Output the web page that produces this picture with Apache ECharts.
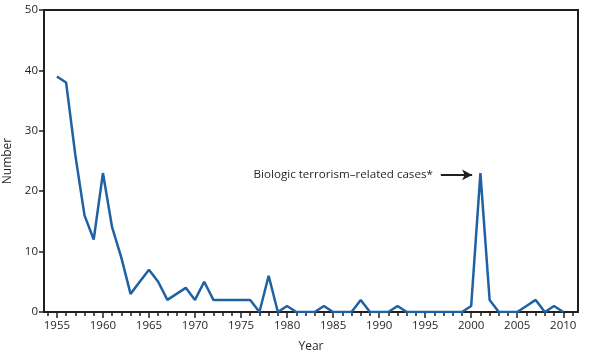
<!DOCTYPE html>
<html>
<head>
<meta charset="utf-8">
<script src="https://cdn.jsdelivr.net/npm/echarts@6/dist/echarts.min.js"></script>
<style>
html,body{margin:0;padding:0;background:#fff;}
#c{width:596px;height:359px;}
</style>
</head>
<body>
<div id="c"></div>
<script>
const years = [1955,1956,1957,1958,1959,1960,1961,1962,1963,1964,1965,1966,1967,1968,1969,1970,1971,1972,1973,1974,1975,1976,1977,1978,1979,1980,1981,1982,1983,1984,1985,1986,1987,1988,1989,1990,1991,1992,1993,1994,1995,1996,1997,1998,1999,2000,2001,2002,2003,2004,2005,2006,2007,2008,2009,2010];
const cases = [39,38,26,16,12,23,14,9,3,5,7,5,2,3,4,2,5,2,2,2,2,2,0,6,0,1,0,0,0,1,0,0,0,2,0,0,0,1,0,0,0,0,0,0,0,1,23,2,0,0,0,1,2,0,1,0];
const xLabelYears = [1955,1960,1965,1970,1975,1980,1985,1990,1995,2000,2005,2010];
const yTicks = [0,10,20,30,40,50];
const annotationText = 'Biologic terrorism\u2013related cases*';
const annotationArrow = [[1996.7,22.7],[2000.1,22.7]];

const tickYears = [];
for (let y = 1954; y <= 2011; y++) tickYears.push(y);

const FONT = "'Open Sans', sans-serif";
const INK = '#231f20';
const chart = echarts.init(document.getElementById('c'), null, {renderer:'canvas'});
const xBase = {
  type:'value', min:1953.6, max:2011.6, position:'bottom',
  splitLine:{show:false}
};
chart.setOption({
  animation:false,
  grid:{left:44, right:18, top:10, bottom:47, show:true, borderColor:INK, borderWidth:2, containLabel:false, outerBoundsMode:'none'},
  xAxis:[
    Object.assign({}, xBase, {
      name:'Year', nameLocation:'middle', nameGap:29,
      nameTextStyle:{fontFamily:FONT, fontSize:12, color:INK},
      axisLine:{show:true, lineStyle:{color:INK, width:2}},
      axisTick:{show:true, length:4, customValues:tickYears, lineStyle:{color:INK, width:1.5}},
      axisLabel:{show:true, customValues:xLabelYears, formatter:v=>String(v), fontFamily:FONT, fontSize:11.5, color:INK, margin:8}
    }),
    Object.assign({}, xBase, {
      axisLine:{show:false},
      axisTick:{show:true, length:6, customValues:xLabelYears, lineStyle:{color:INK, width:1.5}},
      axisLabel:{show:false}
    })
  ],
  yAxis:{
    type:'value', min:yTicks[0], max:yTicks[yTicks.length-1], interval:10,
    name:'Number', nameLocation:'middle', nameGap:24,
    nameTextStyle:{fontFamily:FONT, fontSize:12, color:INK},
    axisLine:{show:true, lineStyle:{color:INK, width:2}},
    axisTick:{show:true, length:5, lineStyle:{color:INK, width:1.5}},
    axisLabel:{fontFamily:FONT, fontSize:11.5, color:INK, margin:6},
    splitLine:{show:false}
  },
  series:[{
    type:'line', xAxisIndex:0,
    data: years.map((y,i)=>[y, cases[i]]),
    showSymbol:false, symbol:'none',
    lineStyle:{color:'#1f62a3', width:2.5},
    markLine:{
      silent:true, symbol:['none','arrow'], symbolSize:[8,10],
      lineStyle:{color:INK, width:2, type:'solid'},
      label:{show:true, position:'start', formatter:annotationText, fontFamily:FONT, fontSize:11.6, color:INK, distance:8},
      data:[[{coord:annotationArrow[0]},{coord:annotationArrow[1]}]]
    }
  }]
});
</script>
</body>
</html>
